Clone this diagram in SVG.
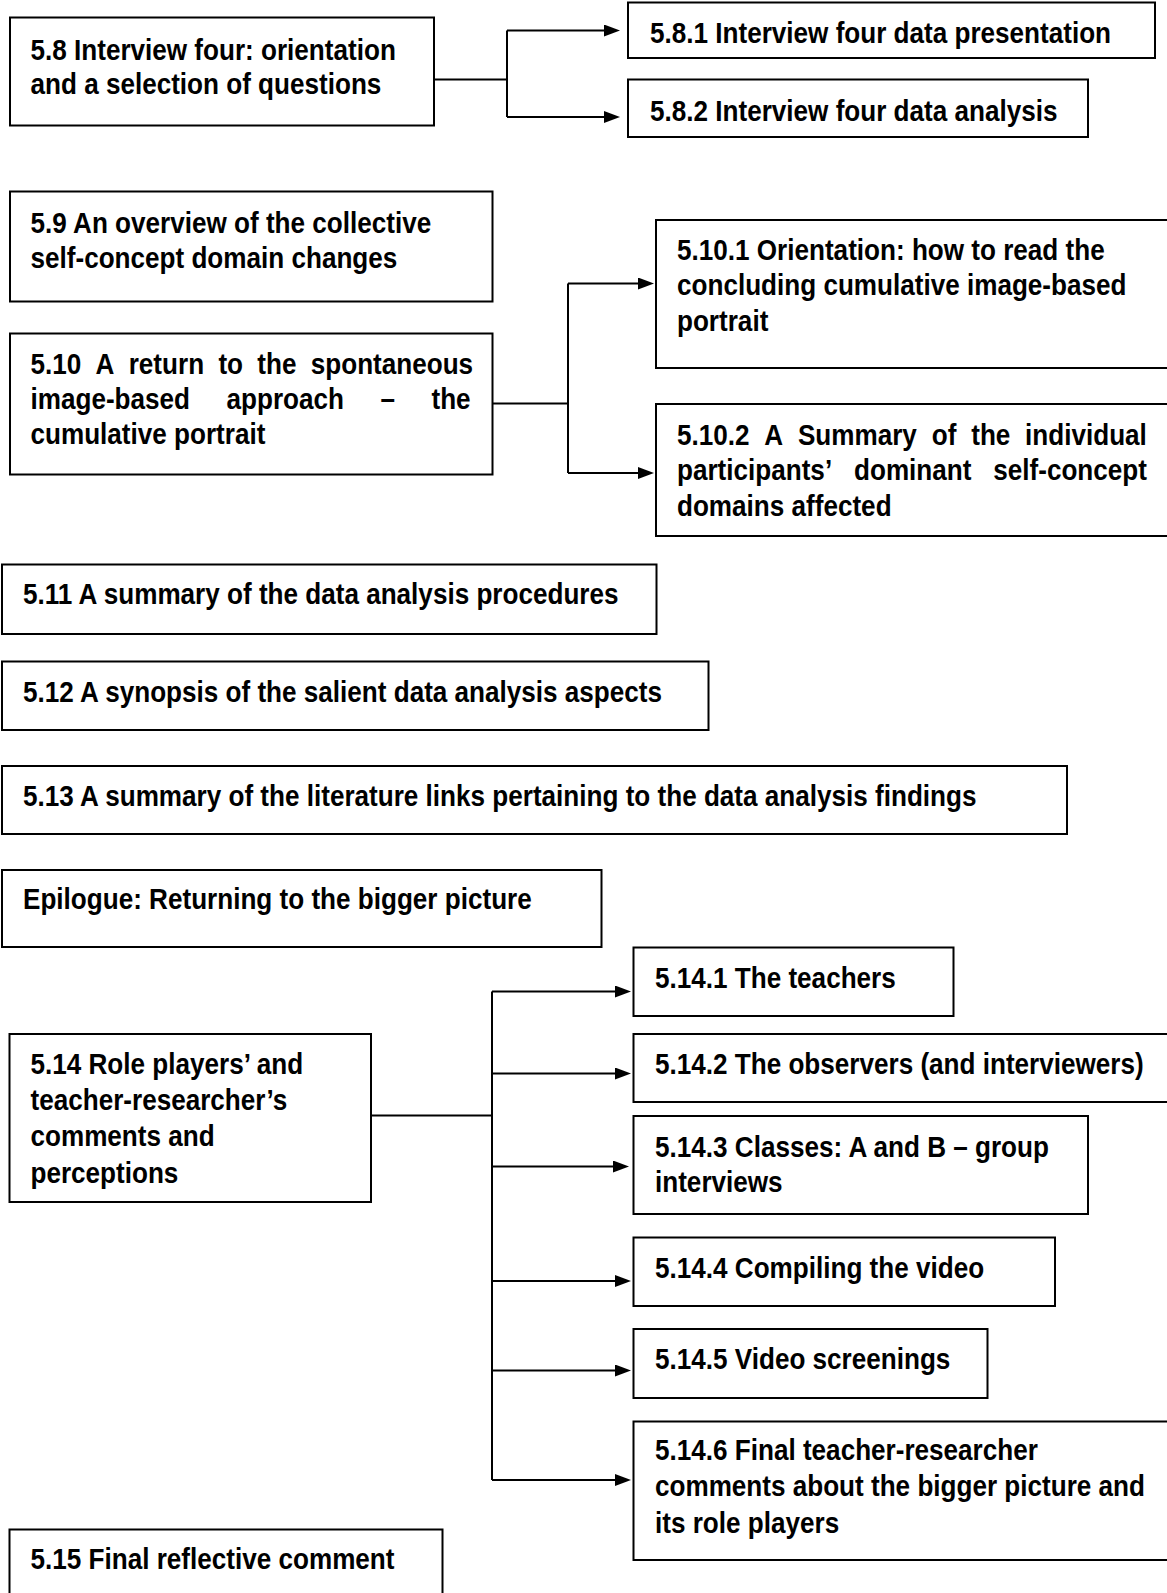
<svg xmlns="http://www.w3.org/2000/svg" width="1167" height="1593" viewBox="0 0 1167 1593">
  <style>
    .box { fill: #fff; stroke: #000; stroke-width: 2; }
    .lbl { font-family: "Liberation Sans", Arial, sans-serif; font-weight: 700; font-size: 29px; fill: #000; }
    .wire { fill: none; stroke: #000; stroke-width: 2; }
    .arrow { marker-end: url(#head); }
  </style>
  <defs>
    <!-- solid triangular arrowhead; tip sits 8px past the line end -->
    <marker id="head" viewBox="0 0 16 12" refX="8" refY="6" markerWidth="16" markerHeight="12" markerUnits="userSpaceOnUse" orient="auto">
      <path d="M0,0 L16,6 L0,12 z" fill="#000"/>
    </marker>
  </defs>

  <rect width="1167" height="1593" fill="#fff"/>

  <!-- connectors -->
  <g id="connectors">
    <path class="wire" d="M434,79.5 H507 M507,30.5 V117"/>
    <path class="wire arrow" d="M507,30.5 H612"/>
    <path class="wire arrow" d="M507,117 H612"/>

    <path class="wire" d="M492.5,403.5 H568 M568,283.5 V473"/>
    <path class="wire arrow" d="M568,283.5 H646"/>
    <path class="wire arrow" d="M568,473 H646"/>

    <path class="wire" d="M371,1115.5 H492 M492,991.5 V1480"/>
    <path class="wire arrow" d="M492,991.5 H623"/>
    <path class="wire arrow" d="M492,1073.5 H623"/>
    <path class="wire arrow" d="M492,1166.5 H621"/>
    <path class="wire arrow" d="M492,1281 H623"/>
    <path class="wire arrow" d="M492,1370.5 H623"/>
    <path class="wire arrow" d="M492,1480 H623"/>
  </g>

  <!-- section boxes; labels are set in bold sans, narrowed to 90% width -->
  <g id="n5-8">
    <rect class="box" x="10" y="17.5" width="424" height="108"/>
    <text class="lbl" transform="matrix(0.9 0 0 1 30.5 59.5)"><tspan x="0" y="0">5.8 Interview four: orientation</tspan><tspan x="0" y="35">and a selection of questions</tspan></text>
  </g>

  <g id="n5-8-1">
    <rect class="box" x="628" y="2.5" width="527" height="55.5"/>
    <text class="lbl" transform="matrix(0.9 0 0 1 650 42.5)">5.8.1 Interview four data presentation</text>
  </g>

  <g id="n5-8-2">
    <rect class="box" x="628" y="79.5" width="460" height="57.5"/>
    <text class="lbl" transform="matrix(0.9 0 0 1 650 120.5)">5.8.2 Interview four data analysis</text>
  </g>

  <g id="n5-9">
    <rect class="box" x="10" y="191.5" width="482.5" height="110"/>
    <text class="lbl" transform="matrix(0.9 0 0 1 30.5 233)"><tspan x="0" y="0">5.9 An overview of the collective</tspan><tspan x="0" y="35">self-concept domain changes</tspan></text>
  </g>

  <g id="n5-10-1">
    <rect class="box" x="656" y="220" width="520" height="148"/>
    <text class="lbl" transform="matrix(0.9 0 0 1 677 260)"><tspan x="0" y="0">5.10.1 Orientation: how to read the</tspan><tspan x="0" y="35.5">concluding cumulative image-based</tspan><tspan x="0" y="71">portrait</tspan></text>
  </g>

  <g id="n5-10">
    <rect class="box" x="10" y="333.5" width="482.5" height="141"/>
    <text class="lbl" transform="matrix(0.9 0 0 1 30.5 373.5)"><tspan x="0" y="0">5.10</tspan><tspan x="72.3" y="0">A</tspan><tspan x="109.1" y="0">return</tspan><tspan x="208.8" y="0">to</tspan><tspan x="252" y="0">the</tspan><tspan x="311.4" y="0">spontaneous</tspan><tspan x="0" y="35.5">image-based</tspan><tspan x="217.8" y="35.5">approach</tspan><tspan x="388.9" y="35.5">–</tspan><tspan x="445.5" y="35.5">the</tspan><tspan x="0" y="71">cumulative portrait</tspan></text>
  </g>

  <g id="n5-10-2">
    <rect class="box" x="656" y="404" width="520" height="132"/>
    <text class="lbl" transform="matrix(0.9 0 0 1 677 445)"><tspan x="0" y="0">5.10.2</tspan><tspan x="97" y="0">A</tspan><tspan x="134.4" y="0">Summary</tspan><tspan x="283" y="0">of</tspan><tspan x="326.9" y="0">the</tspan><tspan x="386.8" y="0">individual</tspan><tspan x="0" y="35.5">participants’</tspan><tspan x="196.7" y="35.5">dominant</tspan><tspan x="351.4" y="35.5">self-concept</tspan><tspan x="0" y="71">domains affected</tspan></text>
  </g>

  <g id="n5-11">
    <rect class="box" x="2" y="564.5" width="654.5" height="69.5"/>
    <text class="lbl" transform="matrix(0.9 0 0 1 23 603.5)">5.11 A summary of the data analysis procedures</text>
  </g>

  <g id="n5-12">
    <rect class="box" x="2" y="661.5" width="706.5" height="68.5"/>
    <text class="lbl" transform="matrix(0.9 0 0 1 23 702)">5.12 A synopsis of the salient data analysis aspects</text>
  </g>

  <g id="n5-13">
    <rect class="box" x="2" y="766" width="1065" height="68"/>
    <text class="lbl" transform="matrix(0.9 0 0 1 23 805.5)">5.13 A summary of the literature links pertaining to the data analysis findings</text>
  </g>

  <g id="epilogue">
    <rect class="box" x="2" y="870" width="599.5" height="77"/>
    <text class="lbl" transform="matrix(0.9 0 0 1 23 909)">Epilogue: Returning to the bigger picture</text>
  </g>

  <g id="n5-14">
    <rect class="box" x="9.5" y="1034" width="361.5" height="168"/>
    <text class="lbl" transform="matrix(0.9 0 0 1 30.5 1073.5)"><tspan x="0" y="0">5.14 Role players’ and</tspan><tspan x="0" y="36.5">teacher-researcher’s</tspan><tspan x="0" y="73">comments and</tspan><tspan x="0" y="109.5">perceptions</tspan></text>
  </g>

  <g id="n5-14-1">
    <rect class="box" x="633.5" y="947.5" width="320" height="68.5"/>
    <text class="lbl" transform="matrix(0.9 0 0 1 655 987.5)">5.14.1 The teachers</text>
  </g>

  <g id="n5-14-2">
    <rect class="box" x="633.5" y="1034" width="540" height="68"/>
    <text class="lbl" transform="matrix(0.9 0 0 1 655 1073.5)">5.14.2 The observers (and interviewers)</text>
  </g>

  <g id="n5-14-3">
    <rect class="box" x="633.5" y="1116" width="454.5" height="98"/>
    <text class="lbl" transform="matrix(0.9 0 0 1 655 1156.5)"><tspan x="0" y="0">5.14.3 Classes: A and B – group</tspan><tspan x="0" y="35.5">interviews</tspan></text>
  </g>

  <g id="n5-14-4">
    <rect class="box" x="633.5" y="1237.5" width="421.5" height="68.5"/>
    <text class="lbl" transform="matrix(0.9 0 0 1 655 1277.5)">5.14.4 Compiling the video</text>
  </g>

  <g id="n5-14-5">
    <rect class="box" x="633.5" y="1329" width="354" height="69"/>
    <text class="lbl" transform="matrix(0.9 0 0 1 655 1368.5)">5.14.5 Video screenings</text>
  </g>

  <g id="n5-14-6">
    <rect class="box" x="633.5" y="1421.5" width="540" height="138.5"/>
    <text class="lbl" transform="matrix(0.9 0 0 1 655 1460)"><tspan x="0" y="0">5.14.6 Final teacher-researcher</tspan><tspan x="0" y="36.5">comments about the bigger picture and</tspan><tspan x="0" y="73">its role players</tspan></text>
  </g>

  <g id="n5-15">
    <rect class="box" x="9.5" y="1529.5" width="433" height="80"/>
    <text class="lbl" transform="matrix(0.9 0 0 1 30.5 1568.5)">5.15 Final reflective comment</text>
  </g>
</svg>
